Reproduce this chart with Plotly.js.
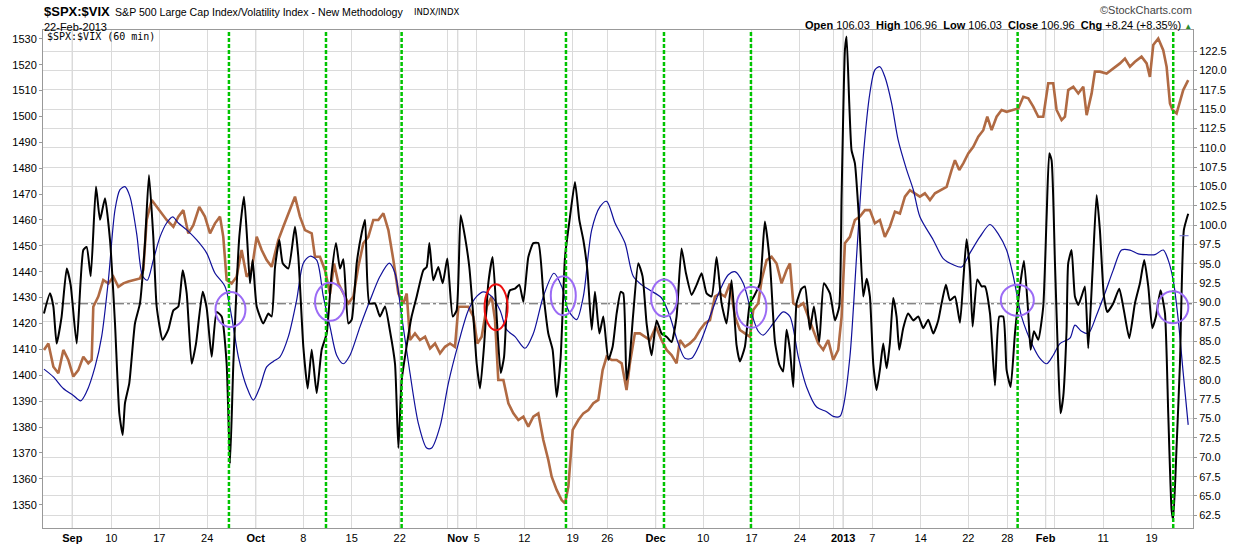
<!DOCTYPE html>
<html><head><meta charset="utf-8">
<script src="https://cdn.plot.ly/plotly-3.0.1.min.js"></script>
<style>html,body{margin:0;padding:0;background:#fff;}#chart{width:1240px;height:546px;}</style>
</head><body><div id="chart"></div>
<script>
// x unit = trading days from left edge of chart (60-min bars)
const tickDays = [3.05,7.11,12.11,17.11,22.16,27.11,32.16,37.16,42.11,43.2,45.18,50.14,55.18,58.78,63.82,68.78,73.82,78.85,82.32,83.36,86.39,91.43,96.39,100.45,104.45,105.42,110.45,115.49];
const tickText = ['<b>Sep</b>','10','17','24','<b>Oct</b>','8','15','22','','<b>Nov</b>','5','12','19','26','<b>Dec</b>','10','17','24','','<b>2013</b>','7','14','22','28','<b>Feb</b>','','11','19'];
const monthDays = [3.05,22.16,43.2,63.82,83.36,104.45];
const leftTicks = [1350,1360,1370,1380,1390,1400,1410,1420,1430,1440,1450,1460,1470,1480,1490,1500,1510,1520,1530];
const rightTicks = [62.5,65,67.5,70,72.5,75,77.5,80,82.5,85,87.5,90,92.5,95,97.5,100,102.5,105,107.5,110,112.5,115,117.5,120,122.5];

// $SPX price (left axis)
const spxX = [0.1,0.56,1.08,1.6,2.12,2.64,3.16,3.68,4.2,4.72,5.07,5.24,5.76,6.28,6.81,7.33,7.85,8.37,8.89,9.41,10.1,10.45,10.8,11.32,11.84,12.36,12.88,13.58,14.1,14.62,15.14,15.66,16.28,16.87,17.4,17.92,18.44,18.78,19.13,19.65,20.17,20.69,21.22,21.74,22.26,22.78,23.3,23.82,24.51,25.03,25.56,26.25,26.77,27.29,27.99,28.33,28.85,29.37,29.9,30.32,30.77,31.29,31.81,32.33,32.85,33.37,33.89,34.41,34.93,35.46,35.98,36.5,37.02,37.54,37.89,38.23,38.75,39.27,39.8,40.32,40.84,41.36,41.88,42.4,42.92,43.27,43.79,44.31,44.83,45.25,45.7,46.22,46.74,47.09,47.43,47.96,48.48,49.0,49.52,50.04,50.56,51.08,51.6,52.12,52.64,52.99,53.51,54.03,54.38,54.73,55.18,55.77,56.29,56.81,57.33,57.85,58.3,58.72,59.24,59.76,60.28,60.79,61.14,61.66,62.18,62.7,63.23,63.85,64.44,64.96,65.48,66.0,66.35,66.87,67.39,67.91,68.43,68.95,69.48,70.0,70.52,71.04,71.56,72.08,72.6,73.12,73.64,73.99,74.51,74.86,75.38,75.9,76.42,76.94,77.46,77.81,78.16,78.68,79.2,79.72,80.24,80.76,81.28,81.8,82.32,82.84,83.19,83.54,84.06,84.58,85.1,85.62,86.14,86.66,87.18,87.7,88.22,88.75,89.27,89.79,90.31,90.83,91.35,91.87,92.4,92.92,93.44,94.13,94.65,95.0,95.45,95.87,96.39,96.91,97.43,97.95,98.37,98.82,99.34,99.86,100.38,101.08,101.6,102.12,102.64,103.16,103.68,104.2,104.72,105.24,105.59,106.11,106.46,106.8,107.33,107.85,108.37,108.72,109.24,109.58,110.1,110.8,111.49,112.19,112.71,113.23,113.75,114.44,114.97,115.31,115.66,116.18,116.7,117.05,117.4,117.67,118.09,118.44,118.78,119.3];
const spxY = [1409.8,1412.3,1403.3,1400.8,1409.8,1405.9,1399.5,1402.0,1407.2,1404.6,1405.9,1426.5,1430.4,1436.8,1435.5,1438.1,1434.2,1435.5,1436.2,1436.8,1437.4,1440.7,1460.0,1467.7,1465.1,1462.6,1460.0,1457.4,1461.3,1463.8,1454.8,1458.0,1465.1,1461.3,1454.8,1458.7,1461.3,1453.5,1436.8,1435.5,1438.1,1448.4,1438.1,1440.7,1453.5,1448.4,1444.5,1441.9,1452.2,1457.4,1462.6,1469.0,1461.3,1456.1,1454.8,1445.8,1445.8,1440.7,1431.5,1443.2,1435.5,1431.6,1427.8,1430.4,1442.0,1451.0,1453.5,1460.0,1460.0,1462.6,1456.1,1444.5,1431.6,1427.8,1431.6,1413.6,1416.2,1413.6,1414.9,1410.4,1412.3,1408.5,1411.0,1412.3,1411.0,1426.5,1426.5,1426.5,1422.6,1412.3,1414.9,1426.5,1430.4,1421.3,1398.2,1398.2,1389.2,1385.3,1382.7,1384.0,1380.2,1384.0,1385.3,1375.0,1367.3,1360.8,1355.7,1351.8,1350.5,1357.0,1378.9,1382.7,1385.3,1386.6,1389.2,1390.5,1402.0,1407.2,1405.9,1405.9,1404.6,1394.3,1404.6,1416.2,1416.2,1414.9,1413.6,1418.8,1413.6,1409.8,1407.8,1404.6,1413.6,1411.0,1412.3,1414.2,1417.5,1420.0,1421.3,1430.4,1431.6,1430.4,1435.5,1422.6,1417.5,1416.2,1414.9,1425.2,1427.8,1436.8,1444.5,1445.8,1443.2,1435.5,1440.7,1443.2,1427.8,1426.5,1427.8,1422.6,1417.5,1412.3,1409.8,1413.6,1405.9,1409.8,1422.6,1451.0,1453.5,1460.0,1461.3,1463.8,1463.8,1458.7,1460.0,1453.5,1457.4,1463.2,1462.5,1469.0,1471.5,1470.3,1469.0,1470.3,1467.7,1470.3,1471.5,1472.8,1479.3,1483.1,1479.3,1481.9,1485.7,1488.3,1492.2,1494.7,1499.9,1494.7,1499.9,1502.5,1501.8,1502.5,1503.1,1507.6,1507.0,1503.8,1499.9,1499.9,1512.8,1512.8,1502.5,1498.6,1499.9,1510.2,1511.5,1508.9,1511.5,1500.5,1508.9,1517.3,1517.3,1516.6,1518.6,1520.5,1522.4,1519.2,1521.1,1523.1,1520.5,1515.3,1527.6,1530.1,1525.6,1519.2,1505.0,1502.5,1501.2,1506.3,1510.2,1514.0];

// $SPX:$VIX black line (right axis)
const ratioX = [0.1,0.73,1.08,1.42,1.94,2.47,2.88,3.51,4.2,4.55,4.97,5.52,5.94,6.46,6.98,7.5,7.95,8.3,8.54,8.99,9.58,10.1,10.6,11.04,11.49,11.84,12.46,13.05,13.58,14.1,14.55,14.97,15.49,15.94,16.63,17.05,17.57,18.09,18.61,19.13,19.48,19.83,20.45,20.94,21.29,21.56,21.84,22.26,22.95,23.47,23.82,24.17,24.62,24.97,25.56,26.25,26.6,27.12,27.57,27.99,28.51,29.03,29.55,30.07,30.52,30.94,31.29,31.81,32.16,32.68,33.2,33.55,34.0,34.59,35.1,35.63,36.15,36.67,37.02,37.37,37.82,38.4,38.93,39.62,39.97,40.25,40.66,41.18,41.64,42.12,42.68,43.09,43.51,43.96,44.41,44.83,45.18,45.53,45.94,46.39,46.84,47.26,47.68,48.03,48.37,48.65,49.17,49.62,50.04,50.56,51.08,51.6,52.12,52.64,53.09,53.51,53.93,54.38,54.9,55.42,55.87,56.29,56.71,57.16,57.5,57.96,58.37,58.89,59.34,59.76,60.18,60.45,60.79,61.07,61.49,62.01,62.46,62.88,63.4,63.92,64.44,64.96,65.48,66.0,66.52,66.98,67.57,68.09,68.61,69.13,69.65,70.17,70.69,71.21,71.73,72.25,72.6,73.12,73.64,74.06,74.68,75.2,75.73,76.25,76.7,77.1,77.46,77.81,78.16,78.5,79.02,79.37,79.89,80.31,80.86,81.35,81.98,82.5,82.95,83.19,83.54,83.71,83.99,84.23,84.58,85.03,85.45,85.8,86.14,86.49,86.84,87.18,87.53,87.88,88.22,88.57,88.92,89.2,89.61,90.13,90.66,91.18,91.7,92.22,92.74,93.26,93.61,94.06,94.48,95.0,95.52,95.87,96.21,96.56,96.84,97.33,97.78,98.12,98.65,99.17,99.62,100.03,100.38,100.8,101.25,101.77,102.19,102.64,102.88,103.23,103.68,104.2,104.55,104.83,105.07,105.42,105.76,106.0,106.28,106.63,106.8,107.15,107.5,107.85,108.19,108.54,108.89,109.34,109.76,110.1,110.52,110.87,111.49,112.12,112.6,113.16,113.75,114.27,114.72,115.14,115.56,115.94,116.42,116.88,117.22,117.57,117.74,118.09,118.44,118.85,119.3];
const ratioY = [88.6,91.2,89.5,84.7,88.2,94.4,92.3,84.7,96.8,97.2,93.4,105.0,100.7,103.5,98.1,87.3,75.7,72.9,77.0,79.6,87.3,89.9,97.2,106.5,98.5,89.5,85.2,86.5,89.0,89.5,94.2,91.2,82.1,84.7,91.4,89.3,83.0,88.8,88.2,82.1,69.2,82.1,98.5,103.7,97.7,92.5,95.5,89.5,87.3,88.6,88.2,94.6,98.1,95.1,94.4,99.8,95.9,84.3,78.9,83.9,78.3,83.9,86.0,93.8,97.7,94.4,95.6,87.3,87.8,95.1,99.0,100.7,89.9,89.9,88.2,89.5,86.3,82.1,71.2,80.0,83.9,88.2,90.8,94.2,94.6,97.7,92.9,94.6,92.5,95.7,88.2,89.0,101.3,98.5,94.6,88.2,82.1,78.9,84.3,92.5,95.9,88.2,80.9,83.0,90.3,91.6,91.8,92.3,90.1,95.9,97.7,97.7,91.2,86.0,83.9,77.8,83.0,95.9,101.1,105.6,100.7,98.1,94.2,86.5,91.4,86.0,88.2,82.6,84.3,88.6,91.4,91.2,80.0,82.1,88.6,95.1,93.4,87.3,83.2,87.7,86.0,85.6,84.9,88.2,97.0,93.8,91.0,92.3,93.8,91.2,90.8,95.9,89.9,87.3,92.9,84.5,82.4,84.3,89.9,90.8,92.5,100.5,95.1,84.9,82.0,81.1,86.5,83.9,79.1,89.9,91.8,92.1,86.5,89.5,84.9,92.5,91.2,87.7,89.5,103.7,122.7,124.4,115.8,109.7,108.0,100.3,90.8,93.1,90.8,82.1,78.7,81.3,84.7,81.5,84.7,90.6,88.2,83.9,86.7,88.6,87.7,88.2,86.7,87.8,86.0,87.7,89.9,92.3,90.3,90.8,87.4,92.9,98.2,94.2,86.9,93.0,92.1,92.1,88.6,79.3,88.2,88.2,81.3,79.1,86.0,92.1,95.4,88.6,83.9,86.3,85.2,89.5,101.1,109.3,108.4,95.1,82.1,75.7,77.8,86.5,95.1,96.8,90.8,89.7,90.8,92.1,84.1,94.2,103.9,99.4,90.8,88.8,89.9,91.8,89.0,85.4,89.9,92.5,95.5,92.1,86.7,88.2,91.6,88.6,75.7,63.2,61.9,71.4,82.1,99.4,101.5];

// blue smoothed line (right axis)
const smoothX = [0.1,1.08,2.12,3.16,3.92,4.55,5.42,6.11,6.81,7.5,8.02,8.54,9.06,9.76,10.38,10.87,11.49,12.19,12.88,13.51,14.1,14.97,16.01,17.05,17.92,18.96,19.65,20.35,21.22,21.91,22.6,23.3,23.99,24.69,25.56,26.42,27.12,27.81,28.51,29.2,29.9,30.59,31.29,31.98,33.03,34.07,35.11,36.08,36.67,37.37,38.23,39.1,39.97,40.49,41.36,42.23,43.27,44.31,45.18,45.87,46.74,47.61,48.3,49.17,50.21,51.08,52.12,53.23,54.03,54.73,55.59,56.29,57.16,58.03,58.72,59.59,60.63,61.49,62.36,63.23,64.44,65.31,66.18,66.87,67.57,68.43,69.48,70.52,71.39,72.08,72.95,73.82,74.51,75.03,76.07,77.11,77.81,78.68,79.54,80.59,81.63,82.32,83.02,83.36,84.06,84.75,85.45,86.14,86.66,87.18,87.7,88.4,89.09,89.96,90.66,91.35,92.74,93.78,94.83,95.69,96.56,97.6,98.65,99.51,100.38,101.08,101.94,103.16,103.85,104.55,105.24,105.94,106.98,107.5,108.19,108.89,109.76,110.62,111.49,112.36,113.23,114.1,114.97,115.83,116.7,117.22,117.74,118.26,118.78,119.3];
const smoothY = [81.4,80.4,78.9,78.0,77.3,78.5,81.7,85.6,92.9,102.0,104.6,105.0,103.7,98.9,93.4,92.9,95.5,98.5,100.3,101.1,100.3,99.4,98.1,96.4,93.8,92.1,88.2,83.0,79.1,77.4,79.1,81.7,82.4,83.0,85.6,90.3,95.1,96.0,95.5,90.8,86.9,83.2,82.1,83.2,86.9,90.3,93.4,95.1,93.8,88.2,80.9,74.4,71.2,71.2,74.0,79.6,84.7,89.0,90.8,91.4,90.8,89.0,86.5,85.6,84.1,86.0,90.8,93.8,92.1,89.0,87.8,90.8,99.4,102.4,103.1,100.3,97.7,93.4,92.3,91.6,90.6,88.2,84.7,82.8,82.8,84.7,88.2,91.6,93.6,94.0,92.5,88.6,86.3,85.8,87.3,88.8,88.2,83.0,79.1,76.5,75.9,75.3,75.3,76.5,83.0,95.9,108.9,117.1,120.1,120.5,119.2,115.8,111.0,107.2,104.6,101.1,98.1,95.7,94.9,94.6,96.4,98.5,100.1,98.9,96.8,93.4,88.2,84.3,82.8,82.1,83.2,84.7,85.4,87.1,86.3,86.0,88.4,91.2,94.2,96.8,96.8,96.3,96.2,96.2,96.8,95.5,92.9,87.8,80.9,74.2];

// markers on the chart
const signalDays = [19.37,29.48,37.36,54.48,64.69,73.75,101.53,117.74];
const circleDays = [19.53,29.9,54.2,64.7,73.8,101.5,117.7];
const circleVals = [89.1,90.1,90.9,90.6,89.4,90.3,89.4];
const circleW = [30,30,25,26,30,33,31];
const circleH = [35,38,39,37,41,31,32];
const redDay = 47.2, redVal = 89.4;
const zeroLine = 89.85;
const lastSmooth = 98.65;

const shapes = [];
monthDays.forEach(d => shapes.push({type:'line', xref:'x', yref:'paper', x0:d, x1:d, y0:0, y1:1, layer:'below', line:{color:'#b4b4b4', width:1}}));
shapes.push({type:'line', xref:'paper', yref:'y2', x0:0, x1:1, y0:zeroLine, y1:zeroLine, layer:'below', line:{color:'#555', width:1, dash:'dashdot'}});
signalDays.forEach(d => shapes.push({type:'line', xref:'x', yref:'paper', x0:d, x1:d, y0:0, y1:1, line:{color:'#00c400', width:2.5, dash:'4px,2px'}}));
circleDays.forEach((d,i) => shapes.push({type:'circle', xref:'x', yref:'y2', xsizemode:'pixel', ysizemode:'pixel', xanchor:d, yanchor:circleVals[i], x0:-circleW[i]/2, x1:circleW[i]/2, y0:-circleH[i]/2, y1:circleH[i]/2, line:{color:'#9b6bf5', width:2}}));
shapes.push({type:'circle', xref:'x', yref:'y2', xsizemode:'pixel', ysizemode:'pixel', xanchor:redDay, yanchor:redVal, x0:-11.5, x1:11.5, y0:-23, y1:23, line:{color:'#ee1111', width:2}});
shapes.push({type:'line', xref:'x', yref:'y2', x0:118.4, x1:119.8, y0:lastSmooth, y1:lastSmooth, line:{color:'#6a6ad0', width:1, dash:'dash'}});

const traces = [
  {x:spxX, y:spxY, yaxis:'y', type:'scatter', mode:'lines', line:{color:'#b06a43', width:2.6}, hoverinfo:'skip'},
  {x:smoothX, y:smoothY, yaxis:'y2', type:'scatter', mode:'lines', line:{color:'#10109a', width:1.2, shape:'spline', smoothing:0.8}, hoverinfo:'skip'},
  {x:ratioX, y:ratioY, yaxis:'y2', type:'scatter', mode:'lines', line:{color:'#000000', width:2, shape:'spline', smoothing:0.5}, hoverinfo:'skip'}
];

const px2x = p => (p-43)/1150, py2y = p => (528-p)/498;
const annFont = {family:'Liberation Sans, Arial, sans-serif', size:11, color:'#000'};
const annotations = [
  {xref:'paper', yref:'paper', x:px2x(42), y:py2y(12), xanchor:'left', yanchor:'middle', showarrow:false, text:'<b>$SPX:$VIX</b>', font:{family:'Liberation Sans, Arial', size:13, color:'#000'}},
  {xref:'paper', yref:'paper', x:px2x(113), y:py2y(12), xanchor:'left', yanchor:'middle', showarrow:false, text:'S&P 500 Large Cap Index/Volatility Index - New Methodology', font:{family:'Liberation Sans, Arial', size:10.6, color:'#000'}},
  {xref:'paper', yref:'paper', x:px2x(412), y:py2y(12), xanchor:'left', yanchor:'middle', showarrow:false, text:'INDX/INDX', font:{family:'DejaVu Sans, sans-serif', size:8.5, color:'#000'}},
  {xref:'paper', yref:'paper', x:px2x(42), y:py2y(27), xanchor:'left', yanchor:'middle', showarrow:false, text:'22-Feb-2013', font:annFont},
  {xref:'paper', yref:'paper', x:px2x(1194), y:py2y(10), xanchor:'right', yanchor:'middle', showarrow:false, text:'©StockCharts.com', font:{family:'Liberation Sans, Arial', size:11, color:'#444'}},
  {xref:'paper', yref:'paper', x:px2x(1194), y:py2y(25), xanchor:'right', yanchor:'middle', showarrow:false, text:'<b>Open</b> 106.03  <b>High</b> 106.96  <b>Low</b> 106.03  <b>Close</b> 106.96  <b>Chg</b> +8.24 (+8.35%) <span style="color:#2e8b2e;font-size:8px">▲</span>', font:annFont},
  {xref:'paper', yref:'paper', x:px2x(45), y:py2y(37), xanchor:'left', yanchor:'middle', showarrow:false, text:'$SPX:$VIX (60 min)', font:{family:'DejaVu Sans Mono, monospace', size:10, color:'#000'}}
];

const layout = {
  width:1240, height:546,
  margin:{l:43, r:47, t:30, b:18, pad:0},
  paper_bgcolor:'#fff', plot_bgcolor:'#fff',
  showlegend:false, hovermode:false,
  font:{family:'Liberation Sans, Arial, sans-serif', size:11, color:'#000'},
  xaxis:{range:[0,119.8], tickmode:'array', tickvals:tickDays, ticktext:tickText, showgrid:true, gridcolor:'#dadada', gridwidth:1, zeroline:false, showline:true, linecolor:'#999', mirror:true, ticks:'', tickfont:{size:11}},
  yaxis:{range:[1341.0,1533.4], tickmode:'array', tickvals:leftTicks, showgrid:false, zeroline:false, showline:true, linecolor:'#999', ticks:'outside', ticklen:3, tickcolor:'#999', tickfont:{size:11}},
  yaxis2:{range:[60.86,125.25], overlaying:'y', side:'right', tickmode:'array', tickvals:rightTicks, tickformat:'.1f', showgrid:true, gridcolor:'#dadada', zeroline:false, showline:true, linecolor:'#999', ticks:'outside', ticklen:3, tickcolor:'#999', tickfont:{size:11}},
  shapes:shapes, annotations:annotations
};
Plotly.newPlot('chart', traces, layout, {displayModeBar:false, staticPlot:true});
</script></body></html>
